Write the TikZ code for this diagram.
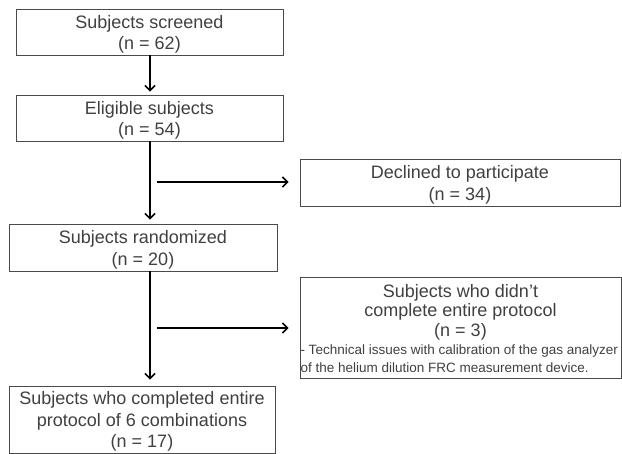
\documentclass[tikz,border=0pt]{standalone}
\usepackage{fontspec}
\setmainfont{Liberation Sans}
\usetikzlibrary{arrows.meta}
\definecolor{txt}{HTML}{404040}
\definecolor{frame}{HTML}{4A4A4A}
\newcommand{\dn}[1]{\raisebox{-2.5pt}[\height][\depth]{\begin{tabular}{@{}c@{}}#1\end{tabular}}}
\begin{document}
\begin{tikzpicture}[x=1pt,y=-1pt,
  box/.style={draw=frame, line width=0.9pt, text=txt, align=center, inner sep=0pt,
    font=\fontsize{18}{21.5}\selectfont},
  arr/.style={draw=black, line width=1.6pt, -{Straight Barb[length=5pt,width=10pt,line width=1.6pt]}}]
\useasboundingbox (0,0) rectangle (622,454);
\node[box, minimum width=267pt, minimum height=46pt] (screen) at (149.5,32) {\dn{Subjects screened\\(n = 62)}};
\node[box, minimum width=267pt, minimum height=46pt] (elig) at (149.5,118) {\dn{Eligible subjects\\(n = 54)}};
\node[box, minimum width=320pt, minimum height=47pt] (decl) at (460,182.5) {\dn{Declined to participate\\(n = 34)}};
\node[box, minimum width=268pt, minimum height=47pt] (rand) at (143,247.5) {\dn{Subjects randomized\\(n = 20)}};
\node[box, minimum width=321pt, minimum height=101pt] (drop) at (460.5,327.5)
  {\raisebox{-1pt}[\height][\depth]{\parbox{320pt}{\fontsize{18}{19.5}\selectfont\centering Subjects who didn't\\complete entire protocol\\(n = 3)\par
   \raggedright\fontsize{13.5}{18}\selectfont - Technical issues with calibration of the gas analyzer\\of the helium dilution FRC measurement device.\par}}};
\node[box, minimum width=266pt, minimum height=67pt] (done) at (142,419.5) {\dn{Subjects who completed entire\\protocol of 6 combinations\\(n = 17)}};
\coordinate (v) at (150,0);
\coordinate (h1) at (157,182);
\coordinate (h2) at (157,328);
\draw[arr, shorten >=3pt] (screen.south -| v) -- (elig.north -| v);
\draw[arr, shorten >=4pt] (elig.south -| v) -- (rand.north -| v);
\draw[arr, shorten >=11pt] (h1) -- (h1 -| decl.west);
\draw[arr, shorten >=6pt] (rand.south -| v) -- (done.north -| v);
\draw[arr, shorten >=11pt] (h2) -- (h2 -| drop.west);
\end{tikzpicture}
\end{document}
